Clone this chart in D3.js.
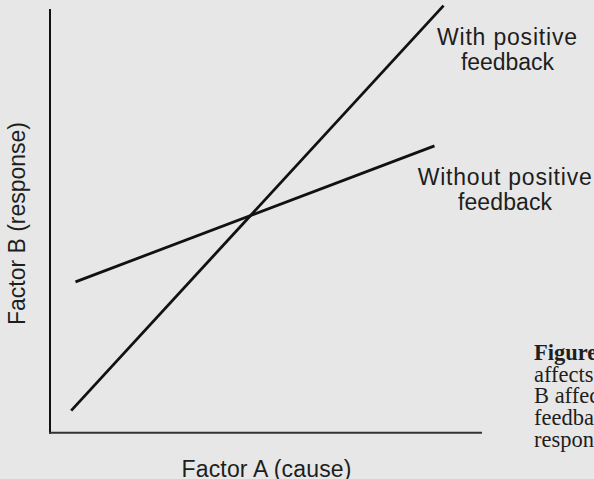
<!DOCTYPE html>
<html>
<head>
<meta charset="utf-8">
<script src="https://cdn.jsdelivr.net/npm/d3@7"></script>
<style>
  html, body { margin: 0; padding: 0; background: #e7e7e7; overflow: hidden; }
  svg { display: block; }
</style>
</head>
<body>
<svg id="chart" width="594" height="479"></svg>
<script>
// Data (arbitrary units 0-100 on both axes)
const seriesNames = ["With positive feedback", "Without positive feedback"];
const withFeedbackX = [4.9, 91.1];
const withFeedbackY = [5.2, 100.8];
const withoutFeedbackX = [5.9, 89.0];
const withoutFeedbackY = [35.6, 67.7];
const xAxisLabel = "Factor A (cause)";
const yAxisLabel = "Factor B (response)";
const captionLines = ["Figure 1.1", "affects factor", "B affects factor A", "feedback loop", "response."];

const svg = d3.select("#chart");
const W = 594, H = 479;
svg.append("rect").attr("width", W).attr("height", H).attr("fill", "#e7e7e7");

const x = d3.scaleLinear().domain([0, 100]).range([50, 482]);
const y = d3.scaleLinear().domain([0, 100]).range([432.7, 9]);

// Axes (no ticks)
svg.append("line")
  .attr("x1", x(0)).attr("x2", x(0))
  .attr("y1", y(0) + 1).attr("y2", y(100))
  .attr("stroke", "#111").attr("stroke-width", 2);
svg.append("line")
  .attr("x1", x(0) - 1).attr("x2", x(100))
  .attr("y1", y(0)).attr("y2", y(0))
  .attr("stroke", "#333").attr("stroke-width", 2);

const line = d3.line().x(d => x(d[0])).y(d => y(d[1]));
const series = [
  d3.zip(withFeedbackX, withFeedbackY),
  d3.zip(withoutFeedbackX, withoutFeedbackY)
];
svg.selectAll("path.series").data(series).enter().append("path")
  .attr("class", "series")
  .attr("d", line)
  .attr("fill", "none")
  .attr("stroke", "#111")
  .attr("stroke-width", 2.8);

const sans = "'Liberation Sans', Arial, Helvetica, sans-serif";
function label(txt, cx, by, len, rot) {
  const t = svg.append("text")
    .attr("text-anchor", "middle")
    .attr("font-family", sans)
    .attr("font-size", 23)
    .attr("fill", "#1e1e1e")
    .attr("textLength", len)
    .attr("lengthAdjust", "spacing")
    .text(txt);
  if (rot) t.attr("transform", `translate(${cx},${by}) rotate(-90)`);
  else t.attr("x", cx).attr("y", by);
  return t;
}

label("With positive", 507, 45, 140);
label("feedback", 507.5, 69.5, 93);
label("Without positive", 504.7, 185, 174);
label("feedback", 505, 210, 94);
label(xAxisLabel, 266.5, 476.5, 170);
label(yAxisLabel, 25, 223.5, 203, true);

// Caption (clipped at the right edge, as in the reference)
const cap = svg.append("text")
  .attr("font-family", "'Liberation Serif', 'Times New Roman', serif")
  .attr("font-size", 22.5)
  .attr("fill", "#1e1e1e");
captionLines.forEach((t, i) => {
  cap.append("tspan")
    .attr("x", 534)
    .attr("y", 360 + i * 21.7)
    .attr("font-weight", i === 0 ? "bold" : "normal")
    .text(t);
});
</script>
</body>
</html>
